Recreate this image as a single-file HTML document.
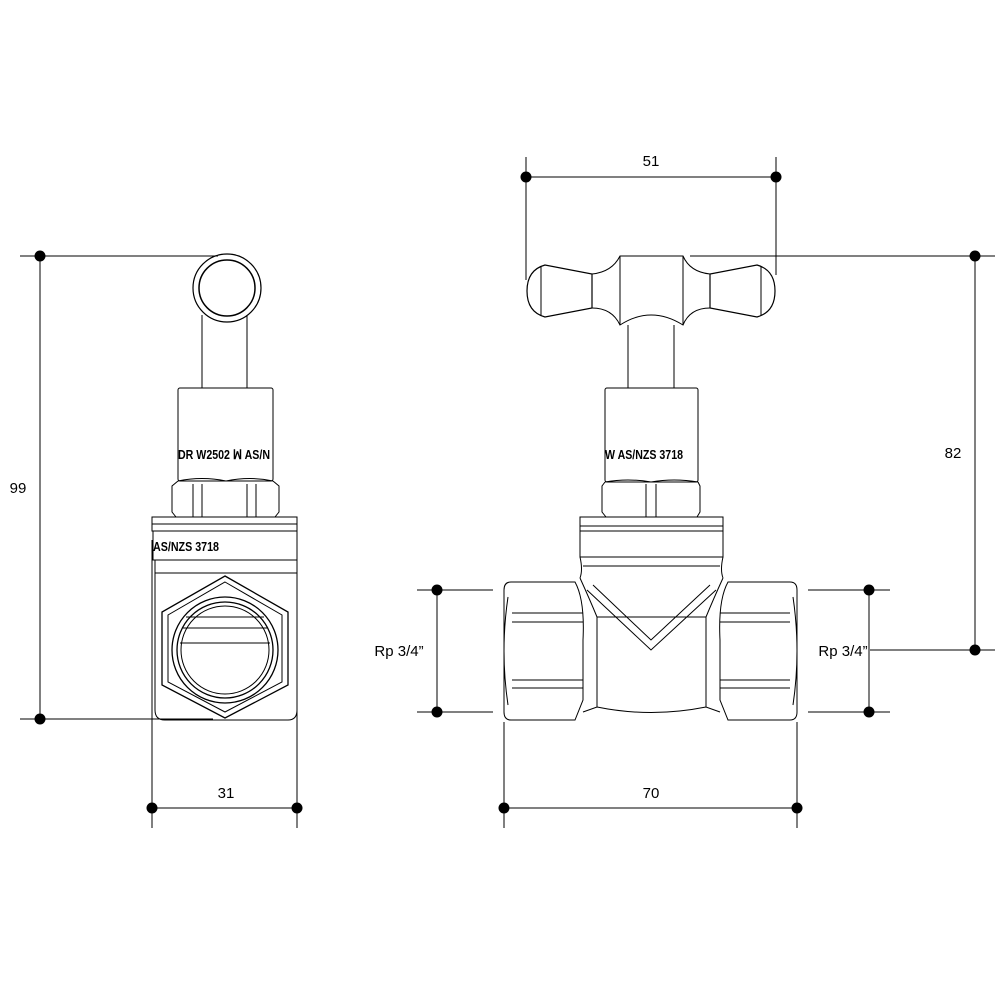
<!DOCTYPE html>
<html><head><meta charset="utf-8"><style>html,body{margin:0;padding:0;background:#fff}svg{display:block}</style></head>
<body>
<svg width="1000" height="1000" viewBox="0 0 1000 1000" xmlns="http://www.w3.org/2000/svg" font-family="Liberation Sans, sans-serif">
<g stroke="#000" stroke-width="1" fill="none">
<!-- ===== LEFT VIEW ===== -->
<circle cx="227" cy="288" r="34" stroke-width="1.2"/>
<circle cx="227" cy="288" r="28" stroke-width="1.5"/>
<line x1="202" y1="315" x2="202" y2="388"/><line x1="247" y1="315" x2="247" y2="388"/>
<rect x="178" y="388" width="95" height="93" rx="2"/>
<path d="M178 481 L172 486 L172 512 L176 517 M273 481 L279 486 L279 512 L275 517 M178 481 Q202 476 226 481 Q250 476 273 481"/>
<line x1="193" y1="484" x2="193" y2="517"/><line x1="202" y1="484" x2="202" y2="517"/>
<line x1="247" y1="484" x2="247" y2="517"/><line x1="256" y1="484" x2="256" y2="517"/>
<rect x="152" y="517" width="145" height="7"/>
<rect x="152" y="524" width="145" height="7"/>
<path d="M153 531 L153 560 L297 560 L297 531"/>
<path d="M155 560 L155 710 Q155 720 165 720 L288 720 Q297 720 297 710 L297 560"/>
<line x1="155" y1="573" x2="297" y2="573"/>
<path d="M225 576 L288 612 L288 685 L225 718 L162 685 L162 612 Z" stroke-width="1.3"/>
<path d="M225 582 L282 615 L282 682 L225 712 L168 682 L168 615 Z"/>
<circle cx="225" cy="650" r="53" stroke-width="1.3"/>
<circle cx="225" cy="650" r="48" stroke-width="1.3"/>
<circle cx="225" cy="650" r="44"/>
<line x1="186" y1="617" x2="264" y2="617"/><line x1="182" y1="628" x2="268" y2="628"/><line x1="180" y1="643" x2="270" y2="643"/>
<!-- ===== RIGHT VIEW ===== -->
<path d="M545 265 Q527 270 527 291 Q527 312 545 317 L592 308 L592 274 Z" stroke-width="1.2"/>
<line x1="541" y1="266" x2="541" y2="316"/>
<line x1="592" y1="274" x2="592" y2="308"/>
<path d="M757 265 Q775 270 775 291 Q775 312 757 317 L710 308 L710 274 Z" stroke-width="1.2"/>
<line x1="761" y1="266" x2="761" y2="316"/>
<line x1="710" y1="274" x2="710" y2="308"/>
<path d="M592 274 Q612 272 620 256 L683 256 Q690 272 710 274 M592 308 Q612 308 620 325 Q651 305 683 325 Q690 308 710 308"/>
<line x1="620" y1="256" x2="620" y2="325"/><line x1="683" y1="256" x2="683" y2="325"/>
<line x1="628" y1="325" x2="628" y2="388"/><line x1="674" y1="325" x2="674" y2="388"/>
<rect x="605" y="388" width="93" height="94" rx="2"/>
<path d="M605 482 L602 486 L602 512 L606 517 M698 482 L700 486 L700 512 L697 517 M605 482 Q628 478 651 482 Q674 478 698 482"/>
<line x1="646" y1="484" x2="646" y2="517"/><line x1="656" y1="484" x2="656" y2="517"/>
<rect x="580" y="517" width="143" height="9"/>
<rect x="580" y="526" width="143" height="5"/>
<rect x="580" y="531" width="143" height="26"/>
<path d="M580 557 Q583 570 580 578 M723 557 Q720 570 723 578"/>
<line x1="583" y1="566" x2="720" y2="566"/>
<!-- body -->
<path d="M511 582 L575 582 Q585 600 583 640 L583 700 L575 720 L511 720 Q504 720 504 712 L504 590 Q504 582 511 582 Z"/>
<path d="M790 582 L728 582 Q718 600 720 640 L720 700 L728 720 L790 720 Q797 720 797 712 L797 590 Q797 582 790 582 Z"/>
<path d="M512 613 L583 613 M512 622 L583 622 M512 680 L583 680 M512 688 L583 688"/>
<path d="M720 613 L790 613 M720 622 L790 622 M720 680 L790 680 M720 688 L790 688"/>
<path d="M508 597 Q500 651 508 705 M793 597 Q801 651 793 705"/>
<path d="M580 578 Q590 600 597 617 L706 617 Q713 600 723 578"/>
<line x1="597" y1="617" x2="597" y2="707"/><line x1="706" y1="617" x2="706" y2="707"/>
<path d="M587 590 L651 650 L716 590 M593 585 L651 640 L710 585"/>
<path d="M583 712 L597 707 Q651 718 706 707 L720 712"/>
<!-- ===== DIMENSIONS ===== -->
<line x1="40" y1="256" x2="40" y2="719"/>
<line x1="20" y1="256" x2="218" y2="256"/><line x1="20" y1="719" x2="213" y2="719"/>
<line x1="152" y1="808" x2="297" y2="808"/>
<line x1="152" y1="540" x2="152" y2="828"/><line x1="297" y1="540" x2="297" y2="828"/>
<line x1="526" y1="177" x2="776" y2="177"/>
<line x1="526" y1="157" x2="526" y2="280"/><line x1="776" y1="157" x2="776" y2="275"/>
<line x1="975" y1="256" x2="975" y2="650"/>
<line x1="690" y1="256" x2="995" y2="256"/><line x1="870" y1="650" x2="995" y2="650"/>
<line x1="437" y1="590" x2="437" y2="712"/>
<line x1="417" y1="590" x2="493" y2="590"/><line x1="417" y1="712" x2="493" y2="712"/>
<line x1="869" y1="590" x2="869" y2="712"/>
<line x1="808" y1="590" x2="890" y2="590"/><line x1="808" y1="712" x2="890" y2="712"/>
<line x1="504" y1="808" x2="797" y2="808"/>
<line x1="504" y1="722" x2="504" y2="828"/><line x1="797" y1="722" x2="797" y2="828"/>
</g>
<g fill="#000">
<circle cx="40" cy="256" r="5.5"/><circle cx="40" cy="719" r="5.5"/>
<circle cx="152" cy="808" r="5.5"/><circle cx="297" cy="808" r="5.5"/>
<circle cx="526" cy="177" r="5.5"/><circle cx="776" cy="177" r="5.5"/>
<circle cx="975" cy="256" r="5.5"/><circle cx="975" cy="650" r="5.5"/>
<circle cx="437" cy="590" r="5.5"/><circle cx="437" cy="712" r="5.5"/>
<circle cx="869" cy="590" r="5.5"/><circle cx="869" cy="712" r="5.5"/>
<circle cx="504" cy="808" r="5.5"/><circle cx="797" cy="808" r="5.5"/>
</g>
<g font-size="15" fill="#000" text-anchor="middle">
<text x="18" y="493">99</text>
<text x="226" y="798">31</text>
<text x="651" y="166">51</text>
<text x="953" y="458">82</text>
<text x="399" y="656">Rp 3/4”</text>
<text x="843" y="656">Rp 3/4”</text>
<text x="651" y="798">70</text>
</g>
<g font-size="13" font-weight="bold" fill="#000">
<text x="178" y="459" textLength="92" lengthAdjust="spacingAndGlyphs">DR W2502 ꟽ AS/N</text>
<text x="153" y="551" textLength="66" lengthAdjust="spacingAndGlyphs">AS/NZS 3718</text>
<text x="605" y="459" textLength="78" lengthAdjust="spacingAndGlyphs">W AS/NZS 3718</text>
</g>
</svg>
</body></html>
